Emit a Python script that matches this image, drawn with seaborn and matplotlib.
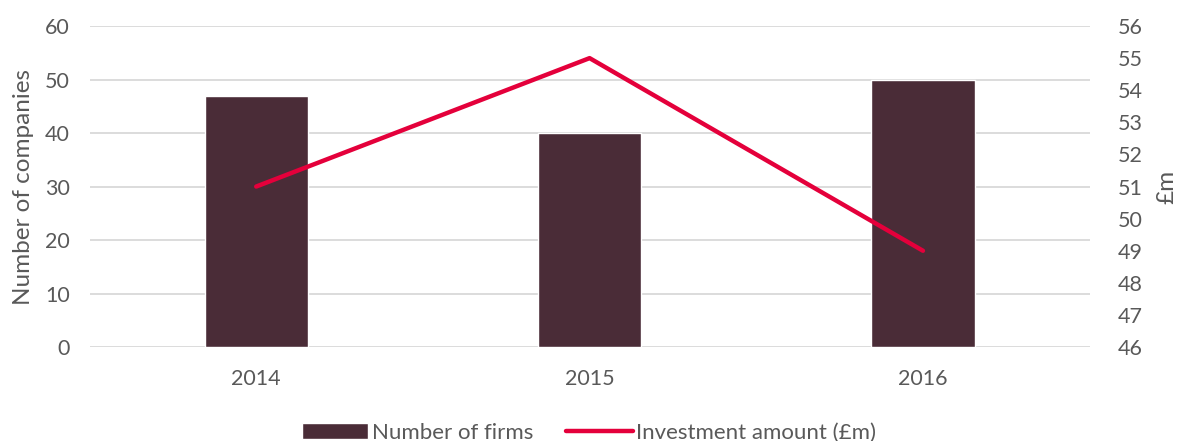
import pandas as pd
import numpy as np
import matplotlib
matplotlib.use("Agg")
import matplotlib.pyplot as plt
import seaborn as sns
from matplotlib.lines import Line2D
from matplotlib.patches import Patch

# chart data
years = ["2014", "2015", "2016"]
firms = [47, 40, 50]
investment = [51, 55, 49]

df = pd.DataFrame({"year": years, "firms": firms, "investment": investment})

sns.set_theme(style="white")
plt.rcParams['font.family'] = ['Lato', 'DejaVu Sans']
grey = "#595959"
bar_col = "#4a2c37"
line_col = "#e4003b"

fig = plt.figure(figsize=(11.78, 4.41), dpi=100)
ax = fig.add_axes([0.076, 0.213, 0.849, 0.728])
sns.barplot(data=df, x="year", y="firms", color=bar_col, width=0.31,
            saturation=1, ax=ax, zorder=2)
ax.set_ylim(0, 60)
ax.set_yticks(range(0, 61, 10))
ax.set_xlim(-0.5, 2.5)
ax.yaxis.grid(True, color="#d9d9d9", linewidth=1.3, zorder=0)
ax.set_axisbelow(True)
ax.set_xlabel("")
ax.set_ylabel("Number of companies", color=grey, fontsize=17.5, labelpad=8)
ax.tick_params(axis="both", colors=grey, labelsize=15.5, length=0)
ax.tick_params(axis="x", pad=16)
ax.tick_params(axis="y", pad=14)
for s in ax.spines.values():
    s.set_visible(False)

ax2 = ax.twinx()
sns.lineplot(x=[0, 1, 2], y=df["investment"], color=line_col, linewidth=3.2,
             ax=ax2, solid_capstyle="round")
ax2.set_ylim(46, 56)
ax2.set_yticks(range(46, 57))
ax2.set_ylabel("£m", color=grey, fontsize=17.5, labelpad=10)
ax2.tick_params(axis="y", colors=grey, labelsize=15.5, length=0, pad=20)
for s in ax2.spines.values():
    s.set_visible(False)

handles = [Patch(facecolor=bar_col, label="Number of firms"),
           Line2D([0], [0], color=line_col, linewidth=3.2, solid_capstyle="round",
                  label="Investment amount (£m)")]
leg = fig.legend(handles=handles, loc="lower center", ncol=2, frameon=False,
                 bbox_to_anchor=(0.5, -0.05), fontsize=16, handlelength=3.0,
                 handletextpad=0.15, columnspacing=1.5)
for t in leg.get_texts():
    t.set_color(grey)

fig.savefig("out.png", dpi=100)
